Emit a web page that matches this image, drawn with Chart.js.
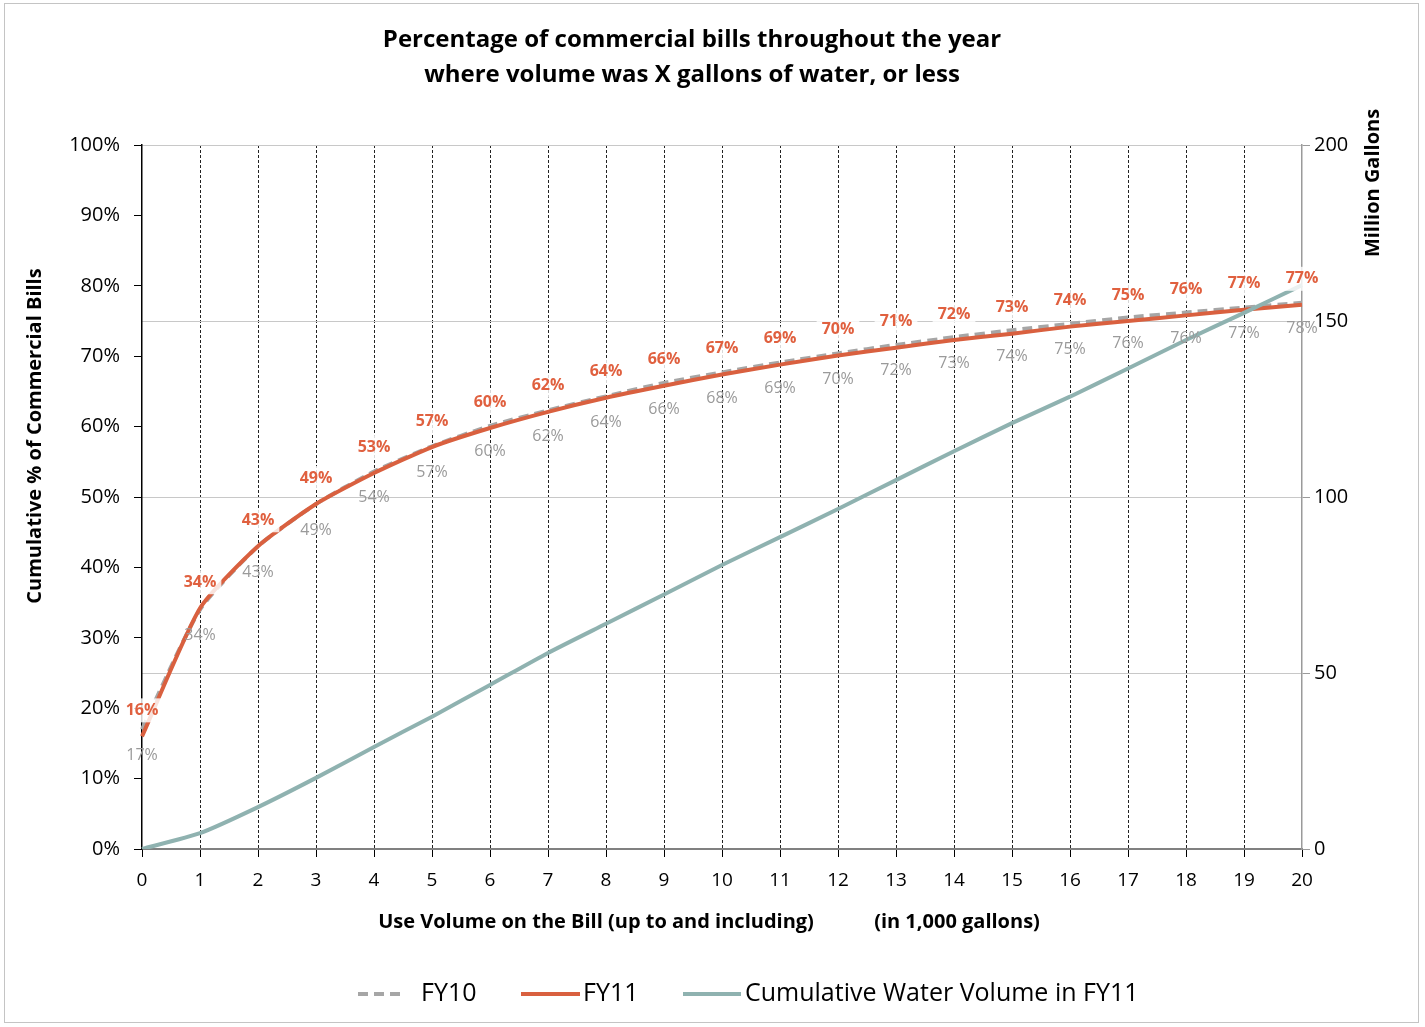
<!DOCTYPE html>
<html>
<head>
<meta charset="utf-8">
<script src="https://cdn.jsdelivr.net/npm/chart.js@4.4.1/dist/chart.umd.min.js"></script>
<style>
  html, body { margin: 0; padding: 0; background: #fff; }
  #wrap { position: relative; width: 1425px; height: 1027px; }
  #frame { position: absolute; left: 4px; top: 3px; width: 1415px; height: 1020px; border: 1px solid #c4c4c4; box-sizing: border-box; pointer-events: none; }
  canvas { position: absolute; left: 0; top: 0; }
</style>
</head>
<body>
<div id="wrap">
  <canvas id="chart" width="1425" height="1027"></canvas>
  <div id="frame"></div>
</div>
<script>
// Use volume on the bill, in thousands of gallons
const volumeSteps = ['0','1','2','3','4','5','6','7','8','9','10','11','12','13','14','15','16','17','18','19','20'];

// Cumulative share of commercial bills (%) at or below each volume
const fy10Share = [17, 34, 43, 49, 53.6, 57.2, 60.1, 62.3, 64.3, 66.2, 67.7, 69.1, 70.4, 71.6, 72.7, 73.7, 74.6, 75.5, 76.2, 76.9, 77.6];
const fy11Share = [16, 34.2, 43, 49, 53.4, 57.1, 59.8, 62.1, 64.1, 65.8, 67.4, 68.8, 70.1, 71.2, 72.3, 73.2, 74.2, 75.0, 75.8, 76.6, 77.3];

// Cumulative water volume billed in FY11 (million gallons)
const fy11Volume = [0, 4.5, 11.9, 20.2, 29.0, 37.6, 46.6, 55.7, 64.0, 72.3, 80.7, 88.6, 96.6, 104.8, 113.0, 121.0, 128.5, 136.5, 144.6, 152.3, 160.2];

// Axis tick values
const shareTicks = [0, 10, 20, 30, 40, 50, 60, 70, 80, 90, 100];
const volumeTicks = [0, 50, 100, 150, 200];

const RED = '#d9603f';
const GREY = '#a6a6a6';
const TEAL = '#8fb2b0';
const FONT = '"Open Sans", "Noto Sans", sans-serif';

// Percentage labels: FY11 above its line on a pale box, FY10 below its line
const pointLabels = {
  id: 'pointLabels',
  afterDatasetsDraw(chart) {
    const ctx = chart.ctx;
    ctx.save();
    ctx.textAlign = 'center';
    ctx.textBaseline = 'middle';
    chart.data.datasets.forEach((ds, i) => {
      const meta = chart.getDatasetMeta(i);
      if (ds.labelPos === undefined) return;
      meta.data.forEach((pt, j) => {
        const txt = Math.round(ds.data[j]) + '%';
        const y = pt.y + (ds.labelPos === 'above' ? -26 : 26);
        if (ds.labelPos === 'above') {
          ctx.font = 'bold 16px ' + FONT;
          const w = ctx.measureText(txt).width + 10;
          ctx.fillStyle = 'rgba(255,255,255,0.82)';
          ctx.fillRect(pt.x - w / 2, y - 12, w, 24);
          ctx.fillStyle = '#e0603f';
        } else {
          ctx.font = '16px ' + FONT;
          ctx.fillStyle = '#9a9a9a';
        }
        ctx.fillText(txt, pt.x, y);
      });
    });
    ctx.restore();
  }
};

// Title, axis titles and legend
const annotations = {
  id: 'annotations',
  afterDraw(chart) {
    const ctx = chart.ctx;
    ctx.save();
    ctx.fillStyle = '#000';
    ctx.textAlign = 'center';
    ctx.textBaseline = 'middle';

    ctx.font = 'bold 24px ' + FONT;
    ctx.fillText('Percentage of commercial bills throughout the year', 692, 40);
    ctx.fillText('where volume was X gallons of water, or less', 692, 75);

    ctx.font = 'bold 20px ' + FONT;
    ctx.fillText('Use Volume on the Bill (up to and including)', 596, 922);
    ctx.fillText('(in 1,000 gallons)', 957, 922);

    ctx.save();
    ctx.translate(35, 436);
    ctx.rotate(-Math.PI / 2);
    ctx.fillText('Cumulative % of Commercial Bills', 0, 0);
    ctx.restore();

    ctx.save();
    ctx.translate(1373, 183);
    ctx.rotate(-Math.PI / 2);
    ctx.fillText('Million Gallons', 0, 0);
    ctx.restore();

    // legend
    const ly = 994;
    ctx.lineWidth = 4;
    ctx.lineCap = 'butt';
    const items = [
      { ds: 0, x0: 358, x1: 405, tx: 421 },
      { ds: 1, x0: 521, x1: 580, tx: 583 },
      { ds: 2, x0: 683, x1: 741, tx: 745 }
    ];
    ctx.font = '25px ' + FONT;
    ctx.textAlign = 'left';
    items.forEach(it => {
      const ds = chart.data.datasets[it.ds];
      ctx.strokeStyle = ds.borderColor;
      ctx.setLineDash(ds.borderDash || []);
      ctx.beginPath();
      ctx.moveTo(it.x0, ly);
      ctx.lineTo(it.x1, ly);
      ctx.stroke();
      ctx.setLineDash([]);
      ctx.fillStyle = '#000';
      ctx.fillText(ds.label, it.tx, ly);
    });
    ctx.restore();
  }
};

new Chart(document.getElementById('chart'), {
  type: 'line',
  data: {
    labels: volumeSteps,
    datasets: [
      {
        label: 'FY10',
        data: fy10Share,
        yAxisID: 'y',
        borderColor: GREY,
        borderWidth: 4,
        borderDash: [10, 6],
        pointRadius: 0,
        tension: 0.2,
        order: 3,
        labelPos: 'below'
      },
      {
        label: 'FY11',
        data: fy11Share,
        yAxisID: 'y',
        borderColor: RED,
        borderWidth: 4,
        pointRadius: 0,
        tension: 0.2,
        order: 2,
        labelPos: 'above'
      },
      {
        label: 'Cumulative Water Volume in FY11',
        data: fy11Volume,
        yAxisID: 'y1',
        borderColor: TEAL,
        borderWidth: 4,
        pointRadius: 0,
        tension: 0.2,
        order: 1
      }
    ]
  },
  options: {
    responsive: false,
    animation: false,
    devicePixelRatio: 1,
    layout: { padding: { top: 145, left: 0, right: 63, bottom: 118 } },
    plugins: {
      legend: { display: false },
      title: { display: false },
      tooltip: { enabled: false }
    },
    scales: {
      x: {
        type: 'category',
        offset: false,
        afterFit: s => { s.height = 60; },
        ticks: { color: '#000', font: { family: FONT, size: 19 }, padding: 12, maxRotation: 0, autoSkip: false },
        grid: {
          color: c => (c.index === 0 || c.index === volumeSteps.length - 1) ? 'rgba(0,0,0,0)' : '#222',
          lineWidth: 1,
          tickLength: 8,
          tickColor: '#000',
          tickBorderDash: []
        },
        border: { color: '#808080', width: 2, dash: [3, 2] }
      },
      y: {
        position: 'left',
        min: 0,
        max: 100,
        afterFit: s => { s.width = 142; },
        afterBuildTicks: s => { s.ticks = shareTicks.map(v => ({ value: v })); },
        ticks: { color: '#000', font: { family: FONT, size: 20 }, padding: 14, callback: v => v + '%' },
        grid: { drawOnChartArea: false, tickLength: 8, tickColor: '#000' },
        border: { color: '#000', width: 1.5 }
      },
      y1: {
        position: 'right',
        min: 0,
        max: 200,
        afterFit: s => { s.width = 60; },
        afterBuildTicks: s => { s.ticks = volumeTicks.map(v => ({ value: v })); },
        ticks: { color: '#000', font: { family: FONT, size: 20 }, padding: 4 },
        grid: {
          color: c => c.tick && c.tick.value === 0 ? 'rgba(0,0,0,0)' : '#c8c8c8',
          lineWidth: 1,
          tickLength: 8,
          tickColor: '#9a9a9a'
        },
        border: { color: '#9a9a9a', width: 1.5 }
      }
    }
  },
  plugins: [pointLabels, annotations]
});
</script>
</body>
</html>
